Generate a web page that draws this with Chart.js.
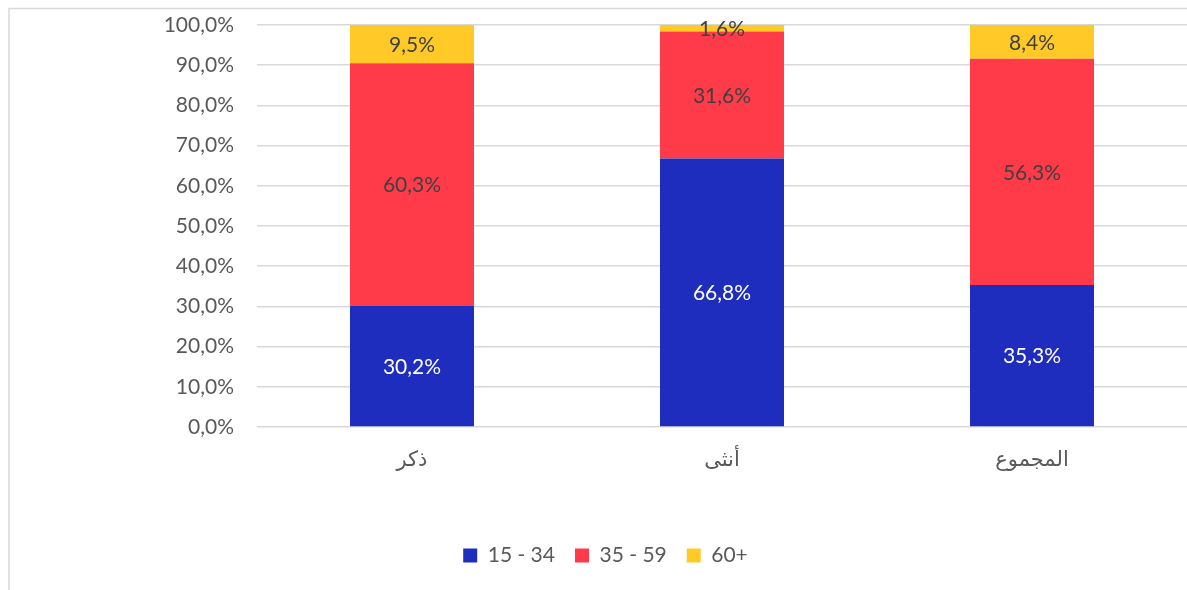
<!DOCTYPE html>
<html>
<head>
<meta charset="utf-8">
<script src="https://cdn.jsdelivr.net/npm/chart.js@4/dist/chart.umd.min.js"></script>
<style>
html,body{margin:0;padding:0;background:#fff;}
#wrap{width:1187px;height:590px;position:relative;}
</style>
</head>
<body>
<div id="wrap"><canvas id="c" width="1187" height="590"></canvas></div>
<script>
const categories = ['ذكر', 'أنثى', 'المجموع'];
const seriesNames = ['15 - 34', '35 - 59', '60+'];
const young = [30.2, 66.8, 35.3];
const middle = [60.3, 31.6, 56.3];
const old = [9.5, 1.6, 8.4];
const colors = ['#1F2DBE', '#FF3B4A', '#FFCA28'];
const labelColors = ['#FFFFFF', '#404040', '#404040'];

const FONT = "Lato, 'DejaVu Sans', sans-serif";
const fmt = v => v.toFixed(1).replace('.', ',') + '%';

const frame = {
  id: 'frame',
  beforeDraw(chart) {
    const ctx = chart.ctx;
    ctx.save();
    ctx.strokeStyle = '#D9D9D9';
    ctx.lineWidth = 1.5;
    ctx.beginPath();
    ctx.moveTo(9, 590);
    ctx.lineTo(9, 8.5);
    ctx.lineTo(1187, 8.5);
    ctx.stroke();
    ctx.restore();
  }
};

const dataLabels = {
  id: 'dataLabels',
  afterDatasetsDraw(chart) {
    const ctx = chart.ctx;
    ctx.save();
    ctx.font = '21px ' + FONT;
    ctx.textAlign = 'center';
    ctx.textBaseline = 'middle';
    chart.data.datasets.forEach((ds, di) => {
      const meta = chart.getDatasetMeta(di);
      meta.data.forEach((bar, i) => {
        const p = bar.getProps(['x', 'y', 'base'], true);
        ctx.fillStyle = labelColors[di];
        ctx.fillText(fmt(ds.data[i]), p.x, (p.y + p.base) / 2 + 1);
      });
    });
    ctx.restore();
  }
};

new Chart(document.getElementById('c'), {
  type: 'bar',
  data: {
    labels: categories,
    datasets: [
      { label: seriesNames[0], data: young, backgroundColor: colors[0] },
      { label: seriesNames[1], data: middle, backgroundColor: colors[1] },
      { label: seriesNames[2], data: old, backgroundColor: colors[2] }
    ]
  },
  options: {
    responsive: false,
    animation: false,
    layout: { padding: { top: 25, right: 0, bottom: 14, left: 24 } },
    datasets: { bar: { categoryPercentage: 0.4, barPercentage: 1.0 } },
    scales: {
      x: {
        stacked: true,
        grid: { display: false, drawTicks: false },
        border: { display: false },
        ticks: { color: '#595959', font: { family: FONT, size: 21 }, padding: 20 },
        afterFit(s) { s.height = 98; s.paddingLeft = 0; s.paddingRight = 0; }
      },
      y: {
        stacked: true,
        min: 0, max: 100,
        ticks: { stepSize: 10, color: '#595959', font: { family: FONT, size: 21 }, padding: 23,
          callback: v => fmt(v) },
        grid: { color: '#D9D9D9', lineWidth: 1.5, drawTicks: false },
        border: { display: false },
        afterFit(s) { s.width = 233; s.paddingTop = 0; s.paddingBottom = 0; }
      }
    },
    plugins: {
      legend: {
        position: 'bottom',
        labels: { color: '#595959', font: { family: FONT, size: 21 }, boxWidth: 14, boxHeight: 14, padding: 20 }
      },
      tooltip: { enabled: false }
    }
  },
  plugins: [frame, dataLabels]
});
</script>
</body>
</html>
